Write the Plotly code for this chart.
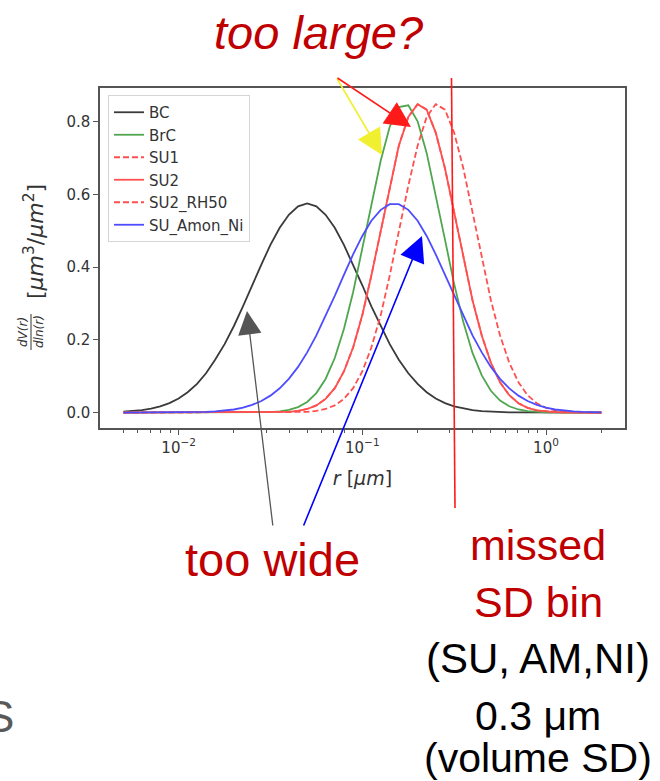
import plotly.graph_objects as go

# ---------------- data ----------------
r_um = [0.00501, 0.00562, 0.00631, 0.00708, 0.00794, 0.00891, 0.0100, 0.0112, 0.0126, 0.0141,
        0.0158, 0.0178, 0.0200, 0.0224, 0.0251, 0.0282, 0.0316, 0.0355, 0.0398, 0.0447,
        0.0501, 0.0562, 0.0631, 0.0708, 0.0794, 0.0891, 0.100, 0.112, 0.126, 0.141,
        0.158, 0.178, 0.200, 0.224, 0.251, 0.282, 0.316, 0.355, 0.398, 0.447,
        0.501, 0.562, 0.631, 0.708, 0.794, 0.891, 1.00, 1.12, 1.26, 1.41,
        1.58, 1.78, 2.00]

bc = [0.0023, 0.0040, 0.0066, 0.0107, 0.0168, 0.0258, 0.0385, 0.0558, 0.0788, 0.108,
      0.145, 0.188, 0.238, 0.292, 0.350, 0.407, 0.461, 0.508, 0.544, 0.567,
      0.575, 0.567, 0.544, 0.508, 0.461, 0.407, 0.350, 0.292, 0.238, 0.188,
      0.145, 0.108, 0.0788, 0.0558, 0.0385, 0.0258, 0.0168, 0.0107, 0.0066, 0.0040,
      0.0023, 0.0013, 0.0007, 0.0004, 0.0002, 0.0001, 0, 0, 0, 0,
      0, 0, 0]

brc = [0, 0, 0, 0, 0, 0, 0, 0, 0, 0,
       0, 0, 0, 0.0001, 0.0002, 0.0006, 0.0014, 0.0033, 0.0073, 0.0150,
       0.0292, 0.0535, 0.0923, 0.150, 0.230, 0.331, 0.450, 0.576, 0.693, 0.786,
       0.840, 0.845, 0.801, 0.714, 0.600, 0.475, 0.354, 0.248, 0.164, 0.102,
       0.0599, 0.0331, 0.0172, 0.0084, 0.0039, 0.0017, 0.0007, 0.0003, 0.0001, 0,
       0, 0, 0]

su1 = [0, 0, 0, 0, 0, 0, 0, 0, 0, 0,
       0, 0, 0, 0, 0, 0.0001, 0.0003, 0.0008, 0.0020, 0.0046,
       0.0098, 0.0197, 0.0375, 0.0670, 0.113, 0.179, 0.268, 0.377, 0.500, 0.624,
       0.734, 0.813, 0.848, 0.833, 0.770, 0.671, 0.551, 0.425, 0.309, 0.212,
       0.137, 0.0831, 0.0476, 0.0257, 0.0130, 0.0062, 0.0028, 0.0012, 0.0005, 0.0002,
       0.0001, 0, 0]

su2 = [0, 0, 0, 0, 0, 0, 0, 0, 0, 0,
       0, 0, 0, 0, 0, 0.0001, 0.0003, 0.0008, 0.0020, 0.0046,
       0.0098, 0.0197, 0.0375, 0.0670, 0.113, 0.179, 0.268, 0.377, 0.500, 0.624,
       0.734, 0.813, 0.848, 0.833, 0.770, 0.671, 0.551, 0.425, 0.309, 0.212,
       0.137, 0.0831, 0.0476, 0.0257, 0.0130, 0.0062, 0.0028, 0.0012, 0.0005, 0.0002,
       0.0001, 0, 0]

su2_rh50 = [0, 0, 0, 0, 0, 0, 0, 0, 0, 0,
            0, 0, 0, 0, 0, 0, 0, 0.0001, 0.0003, 0.0008,
            0.0020, 0.0046, 0.0098, 0.0197, 0.0375, 0.0670, 0.113, 0.179, 0.268, 0.377,
            0.500, 0.624, 0.734, 0.813, 0.848, 0.833, 0.770, 0.671, 0.551, 0.425,
            0.309, 0.212, 0.137, 0.0831, 0.0476, 0.0257, 0.0130, 0.0062, 0.0028, 0.0012,
            0.0005, 0.0002, 0.0001]

su_amon_ni = [0, 0, 0, 0, 0.0001, 0.0001, 0.0003, 0.0005, 0.0010, 0.0017,
              0.0030, 0.0051, 0.0084, 0.0134, 0.0209, 0.0316, 0.0465, 0.0666, 0.0927, 0.1256,
              0.1655, 0.2122, 0.2646, 0.3210, 0.3788, 0.4349, 0.4856, 0.5275, 0.5574, 0.573,
              0.573, 0.5574, 0.5275, 0.4856, 0.4349, 0.3788, 0.3210, 0.2646, 0.2122, 0.1655,
              0.1256, 0.0927, 0.0666, 0.0465, 0.0316, 0.0209, 0.0134, 0.0084, 0.0051, 0.0030,
              0.0017, 0.0010, 0.0005]

series_names = ["BC", "BrC", "SU1", "SU2", "SU2_RH50", "SU_Amon_Ni"]
y_ticks = [0.0, 0.2, 0.4, 0.6, 0.8]
y_tick_labels = ["0.0", "0.2", "0.4", "0.6", "0.8"]
x_ticks = [0.01, 0.1, 1.0]
x_tick_labels = ["10<sup>−2</sup>", "10<sup>−1</sup>", "10<sup>0</sup>"]
x_minor = [0.005, 0.006, 0.007, 0.008, 0.009,
           0.02, 0.03, 0.04, 0.05, 0.06, 0.07, 0.08, 0.09,
           0.2, 0.3, 0.4, 0.5, 0.6, 0.7, 0.8, 0.9,
           2.0]

# ---------------- layout helpers (pixel -> paper) ----------------
W, H = 660, 781
ML, MR, MT, MB = 100, 35, 88, 353
PW = W - ML - MR
PH = H - MT - MB


def px(x):
    return (x - ML) / PW


def py(y):
    return (H - MB - y) / PH


styles = [
    dict(color="#3a3a3a", dash="solid"),
    dict(color="#4fa64f", dash="solid"),
    dict(color="#ff5050", dash="6px,3px"),
    dict(color="#ff5050", dash="solid"),
    dict(color="#ff5050", dash="6px,3px"),
    dict(color="#4d4dff", dash="solid"),
]
values = [bc, brc, su1, su2, su2_rh50, su_amon_ni]

fig = go.Figure()
for name, vals, st in zip(series_names, values, styles):
    fig.add_trace(go.Scatter(x=r_um, y=vals, mode="lines", name=name,
                             line=dict(color=st["color"], dash=st["dash"], width=1.8)))

axis_font = dict(family="DejaVu Sans", size=15, color="#333333")

fig.update_layout(
    width=W, height=H,
    margin=dict(l=ML, r=MR, t=MT, b=MB),
    paper_bgcolor="white", plot_bgcolor="white",
    showlegend=True,
    legend=dict(x=px(108), y=py(95), xanchor="left", yanchor="top",
                bgcolor="rgba(255,255,255,0.9)", bordercolor="#d5d5d5", borderwidth=1,
                font=dict(family="DejaVu Sans", size=15, color="#333333"),
                tracegroupgap=0),
    xaxis=dict(type="log", range=[-2.428, 0.430],
               tickvals=x_ticks, ticktext=x_tick_labels,
               ticks="outside", ticklen=5, tickwidth=1, tickcolor="#555",
               minor=dict(tickvals=x_minor, ticks="outside", ticklen=3, tickcolor="#555"),
               showline=True, linecolor="#555", linewidth=1.5, mirror=True,
               showgrid=False, zeroline=False, tickfont=axis_font,
               title=dict(text="<i>r</i> [<i>μm</i>]",
                          font=dict(family="DejaVu Sans", size=19, color="#333"),
                          standoff=16)),
    yaxis=dict(range=[-0.0425, 0.8925],
               tickvals=y_ticks, ticktext=y_tick_labels,
               ticks="outside", ticklen=5, tickwidth=1, tickcolor="#555",
               showline=True, linecolor="#555", linewidth=1.5, mirror=True,
               showgrid=False, zeroline=False, tickfont=axis_font),
)

# y-axis label built as a rotated fraction + unit
title_col = "#333333"
fig.add_annotation(x=px(34), y=py(242), xref="paper", yref="paper",
                   text="[<i>μm</i><sup>3</sup>/<i>μm</i><sup>2</sup>]", textangle=-90,
                   showarrow=False, xanchor="center", yanchor="middle",
                   font=dict(family="DejaVu Sans", size=22, color=title_col))
fig.add_annotation(x=px(23), y=py(332), xref="paper", yref="paper",
                   text="<i>dV(r)</i>", textangle=-90,
                   showarrow=False, xanchor="center", yanchor="middle",
                   font=dict(family="DejaVu Sans", size=12, color=title_col))
fig.add_annotation(x=px(39), y=py(332), xref="paper", yref="paper",
                   text="<i>dln(r)</i>", textangle=-90,
                   showarrow=False, xanchor="center", yanchor="middle",
                   font=dict(family="DejaVu Sans", size=12, color=title_col))
fig.add_shape(type="line", xref="paper", yref="paper",
              x0=px(31), y0=py(314), x1=px(31), y1=py(350),
              line=dict(color=title_col, width=1))

# red vertical marker for the 0.3 um bin (drawn across the plot frame)
fig.add_shape(type="line", xref="paper", yref="paper",
              x0=px(451.5), y0=py(78), x1=px(455), y1=py(508),
              line=dict(color="#ff1a1a", width=1.6))


def arrow(tip, tail, color, width=1.6, size=3.2):
    fig.add_annotation(x=px(tip[0]), y=py(tip[1]), xref="paper", yref="paper",
                       ax=tail[0] - tip[0], ay=tail[1] - tip[1], axref="pixel", ayref="pixel",
                       text="", showarrow=True, arrowhead=2, arrowsize=size,
                       arrowwidth=width, arrowcolor=color, standoff=0, startstandoff=0)


arrow((382, 155), (336, 77), "#f0f030")
arrow((411, 127), (336, 77), "#ff1a1a")
arrow((247, 311), (273, 527), "#555555", width=1.3, size=3.6)
arrow((422, 236), (303, 527), "#0000ff", width=1.6, size=3.2)

red = "#c00000"
txt = "Liberation Sans, Arial, sans-serif"


def label(x, y, s, color, size, italic=False, xanchor="center"):
    fig.add_annotation(x=px(x), y=py(y), xref="paper", yref="paper", text=s,
                       showarrow=False, xanchor=xanchor, yanchor="middle",
                       font=dict(family=txt, size=size, color=color,
                                 style="italic" if italic else "normal"))


label(318, 33, "too large?", red, 47, italic=True)
label(272, 559, "too wide", red, 47)
label(538, 545, "missed", red, 43)
label(538, 602, "SD bin", red, 43)
label(538, 658, "(SU, AM,NI)", "#000000", 42)
label(538, 716, "0.3 μm", "#000000", 41)
label(538, 758, "(volume SD)", "#000000", 41)
label(16, 716, "S", "#595959", 44, xanchor="right")

fig.write_html("out.html", config={"displayModeBar": False},
               post_script="document.body.style.margin='0';")
